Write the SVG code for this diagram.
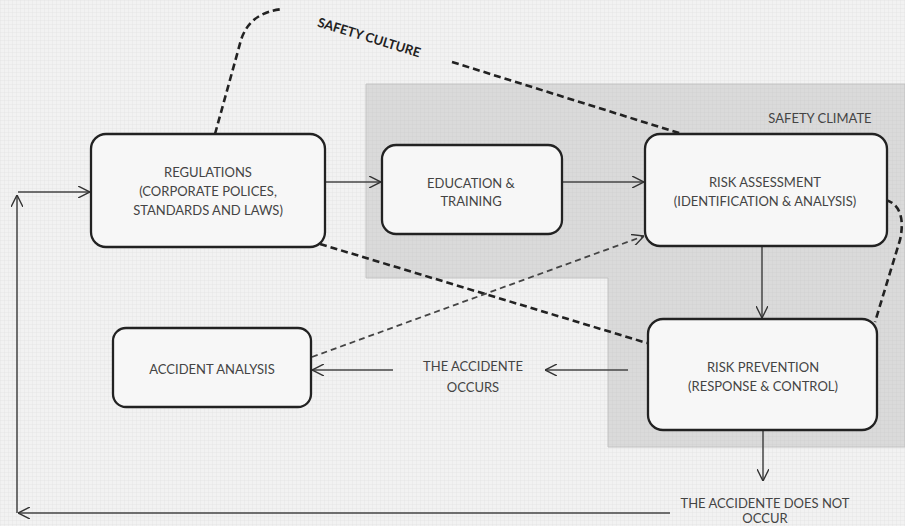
<svg xmlns="http://www.w3.org/2000/svg" width="905" height="526" viewBox="0 0 905 526">
<defs>
<pattern id="tex" width="4" height="4" patternUnits="userSpaceOnUse">
<path d="M0,0.5 H4 M0.5,0 V4" stroke="#aaa" stroke-width="0.5" opacity="0.18"/>
</pattern>
<marker id="arr" viewBox="0 0 12 12" refX="12" refY="6" markerWidth="12" markerHeight="12" markerUnits="userSpaceOnUse" orient="auto">
<path d="M0,0 L12,6 L0,12" fill="none" stroke="#333" stroke-width="1.4"/>
</marker>
</defs>
<style>
.box{fill:#f7f7f7;stroke:#222;stroke-width:2.3}
.t{font-family:Lato,"Open Sans","Liberation Sans",sans-serif;font-size:13px;fill:#444;text-anchor:middle}
.ln{fill:none;stroke:#444;stroke-width:1.5}
.dash{fill:none;stroke:#222;stroke-width:2.6;stroke-dasharray:7 4}
.dash2{fill:none;stroke:#444;stroke-width:1.8;stroke-dasharray:6 4}
</style>
<rect width="905" height="526" fill="#f2f2f2"/>
<rect width="905" height="526" fill="url(#tex)"/>
<g id="safety-climate">
<path d="M366,84 H905 V447 H608 V278 H366 Z" fill="#dadada" stroke="#c4c4c4" stroke-width="1"/>
<path d="M366,84 H905 V447 H608 V278 H366 Z" fill="url(#tex)"/>
<text class="t" x="820" y="123">SAFETY CLIMATE</text>
</g>
<g id="safety-culture">
<text x="369" y="42" transform="rotate(17 369 38)" style="font-family:Lato,'Liberation Sans',sans-serif;font-size:13px;font-weight:bold;fill:#222;text-anchor:middle">SAFETY CULTURE</text>
</g>
<g id="connectors">
<path class="dash" d="M215,134 L241,40 Q250,12 283,9"/>
<path class="dash" d="M452,62 L682,134"/>
<path class="dash" d="M320,244 L647,343"/>
<path class="dash" d="M886,200 C902,205 904,222 900,240 L875,322"/>
<path class="dash2" d="M312,357 L644,236" marker-end="url(#arr)"/>
<path class="ln" d="M17,513 V195" marker-end="url(#arr)"/>
<path class="ln" d="M18,192 H90" marker-end="url(#arr)"/>
<path class="ln" d="M670,513 H18" marker-end="url(#arr)"/>
<path class="ln" d="M325,182 H381" marker-end="url(#arr)"/>
<path class="ln" d="M562,182 H644" marker-end="url(#arr)"/>
<path class="ln" d="M762,246 V318" marker-end="url(#arr)"/>
<path class="ln" d="M628,370 H545" marker-end="url(#arr)"/>
<path class="ln" d="M393,370 H312" marker-end="url(#arr)"/>
<path class="ln" d="M763,430 V481" marker-end="url(#arr)"/>
</g>
<g id="regulations">
<rect class="box" x="91" y="134" width="234" height="113" rx="15"/>
<text class="t" x="208" y="177">REGULATIONS</text>
<text class="t" x="208" y="196">(CORPORATE POLICES,</text>
<text class="t" x="208" y="215">STANDARDS AND LAWS)</text>
</g>
<g id="education">
<rect class="box" x="382" y="145" width="180" height="89" rx="14"/>
<text class="t" x="471" y="188">EDUCATION &amp;</text>
<text class="t" x="471" y="206">TRAINING</text>
</g>
<g id="risk-assessment">
<rect class="box" x="645" y="134" width="242" height="112" rx="15"/>
<text class="t" x="765" y="187">RISK ASSESSMENT</text>
<text class="t" x="765" y="206">(IDENTIFICATION &amp; ANALYSIS)</text>
</g>
<g id="risk-prevention">
<rect class="box" x="648" y="319" width="229" height="111" rx="15"/>
<text class="t" x="763" y="372">RISK PREVENTION</text>
<text class="t" x="763" y="391">(RESPONSE &amp; CONTROL)</text>
</g>
<g id="accident-analysis">
<rect class="box" x="113" y="328" width="198" height="79" rx="13"/>
<text class="t" x="212" y="374">ACCIDENT ANALYSIS</text>
</g>
<g id="accident-occurs">
<text class="t" x="473" y="371">THE ACCIDENTE</text>
<text class="t" x="473" y="392">OCCURS</text>
</g>
<g id="accident-not-occur">
<text class="t" x="765" y="508">THE ACCIDENTE DOES NOT</text>
<text class="t" x="765" y="523">OCCUR</text>
</g>
</svg>
